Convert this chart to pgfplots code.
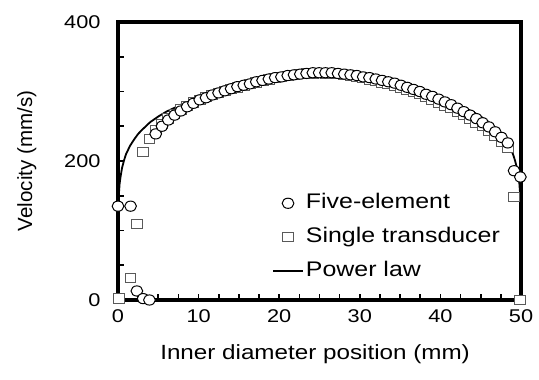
\documentclass[border=0pt]{standalone}
\usepackage{pgfplots}
\pgfplotsset{compat=1.18}
\usepackage{fontspec}
\setmainfont{Liberation Sans}[FakeStretch=1.18]
\newfontfamily\plainfont{Liberation Sans}
\pgfplotstableread{
x y
0 135
1.56 135
2.34 13
3.12 2
3.9 0
4.68 239
5.46 250
6.24 259
7.02 266
7.8 272
8.58 278
9.36 283
10.14 288
10.92 291
11.7 295
12.48 298
13.26 301
14.04 304
14.82 307
15.6 309
16.38 311
17.16 314
17.94 316
18.72 318
19.5 320
20.28 321
21.06 323
21.84 324
22.62 325
23.4 326
24.18 327
24.96 327
25.74 327
26.52 327
27.3 326
28.08 325
28.86 324
29.64 323
30.42 321
31.2 320
31.98 318
32.76 316
33.54 314
34.32 312
35.1 309
35.88 306
36.66 303
37.44 300
38.22 296
39.0 293
39.78 289
40.56 285
41.34 281
42.12 276
42.9 271
43.68 266
44.46 261
45.24 255
46.02 249
46.8 242
47.58 234
48.36 226
49.14 186
49.92 177
}\fiveel
\pgfplotstableread{
x y
0.1 2
1.56 32
2.34 109
3.12 213
3.9 232
4.68 245
5.46 253
6.24 261
7.02 268
7.8 274
8.58 279
9.36 284
10.14 288
10.92 292
11.7 295
12.48 298
13.26 301
14.04 304
14.82 306
15.6 308
16.38 311
17.16 313
17.94 315
18.72 317
19.5 319
20.28 321
21.06 322
21.84 324
22.62 325
23.4 326
24.18 326
24.96 327
25.74 326
26.52 326
27.3 325
28.08 324
28.86 323
29.64 321
30.42 319
31.2 317
31.98 315
32.76 313
33.54 311
34.32 308
35.1 305
35.88 302
36.66 299
37.44 296
38.22 292
39.0 288
39.78 284
40.56 280
41.34 276
42.12 271
42.9 266
43.68 261
44.46 255
45.24 250
46.02 243
46.8 236
47.58 228
48.36 219
49.14 148
49.92 0
}\single
\pgfplotstableread{
x y
0 140
0.1 151
0.2 167
0.3 176
0.5 190
0.75 201
1 210
1.5 222
2 231
2.5 239
3 245
4 256
5 264
6 271
8 282
10 291
12.5 301
15 309
17.5 316
20 322
22.5 327
25 332
27.5 327
30 322
32.5 316
35 309
37.5 301
40 291
42 282
44 271
45 264
46 256
47 245
47.5 239
48 231
48.5 222
49 210
49.25 201
49.5 190
49.7 176
49.8 167
49.9 151
49.95 137
50 0
}\powerlaw
\begin{document}
\begin{tikzpicture}
\begin{axis}[
 name=ax, at={(0bp,0bp)}, anchor=south west,
 scale only axis, width=403bp, height=278bp,
 xmin=0, xmax=50, ymin=0, ymax=400,
 clip=false,
 axis line style={draw=none},
 axis background/.style={draw=black, line width=3.3bp},
 xtick={0,10,...,50}, minor xtick={2.5,5,...,47.5},
 ytick={0,200,400}, minor ytick={50,100,150,250,300,350},
 tick align=inside, xtick pos=bottom, ytick pos=left,
 major tick length=6bp, minor tick length=6bp,
 tick style={line width=1.6bp, black},
 /pgf/number format/assume math mode=true,
 ticklabel style={font=\fontsize{18.5}{21}\selectfont},
 yticklabel style={xshift=-14bp},
 xticklabel style={yshift=-6bp},
 label style={font=\fontsize{20.6}{24}\selectfont},
 xlabel={Inner diameter position (mm)},
 xlabel style={at={(axis description cs:0.489,-0.195)}, anchor=center},
 ylabel={\plainfont Velocity (mm/s)},
 ylabel style={at={(axis description cs:-0.226,0.5)}, anchor=center},
 legend image code/.code={\draw[mark repeat=2,mark phase=2,#1] plot coordinates {(0bp,0bp) (15bp,0bp) (30bp,0bp)};},
 legend style={draw=none, fill=none, inner sep=0pt, at={(axis cs:19.1,156)}, anchor=north west,
   font=\fontsize{21.2}{24}\selectfont, row sep=11bp,
   nodes={text height=15bp, text depth=4bp, inner sep=2bp}},
 legend cell align=left,
]
\addlegendimage{only marks, mark=*, mark size=5.1bp, mark options={fill=white, draw=black, line width=1bp, xscale=1.15}}
\addlegendentry{Five-element}
\addlegendimage{only marks, mark=square*, mark size=4.7bp, mark options={fill=white, draw=black!65, line width=1bp, xscale=1.15}}
\addlegendentry{Single transducer}
\addlegendimage{black, line width=1.8bp}
\addlegendentry{Power law}
\addplot[forget plot, only marks, mark=square*, mark size=4.7bp, mark options={fill=white, draw=black!65, line width=1bp, xscale=1.15}] table {\single};
\addplot[forget plot, only marks, mark=*, mark size=5.1bp, mark options={fill=white, draw=black, line width=1bp, xscale=1.15}] table {\fiveel};
\addplot[forget plot, black, line width=1.8bp] table {\powerlaw};
\end{axis}
\pgfresetboundingbox
\path (-118bp,-80bp) rectangle (421bp,300bp);
\end{tikzpicture}
\end{document}
